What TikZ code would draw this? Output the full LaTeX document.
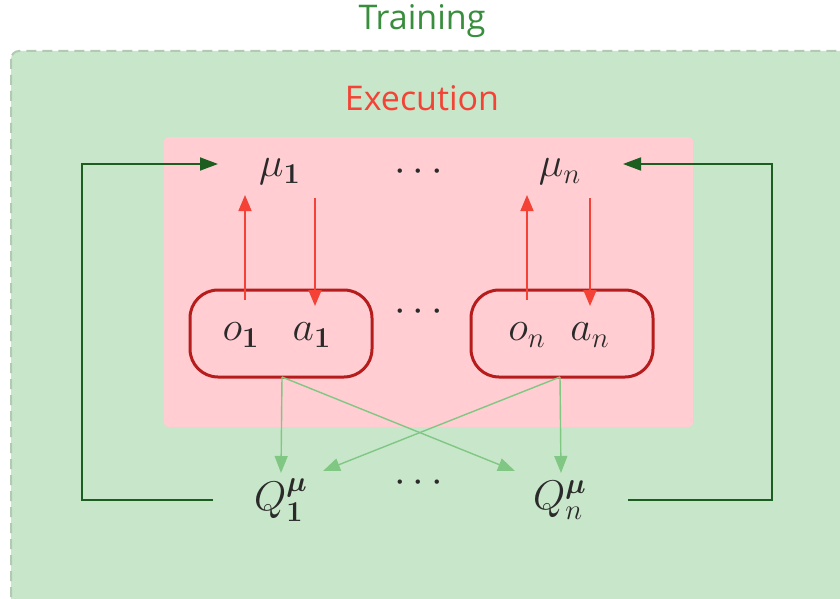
\documentclass[tikz,border=0pt]{standalone}
\usepackage[no-math]{fontspec}
\setmainfont{Open Sans}
\usepackage{amsmath}
\usetikzlibrary{arrows.meta}
\definecolor{trainGreen}{HTML}{388E3C}
\definecolor{execRed}{HTML}{F44336}
\definecolor{greenFill}{HTML}{C8E6C9}
\definecolor{pinkFill}{HTML}{FFCDD2}
\definecolor{pillStroke}{HTML}{B71C1C}
\definecolor{redArrow}{HTML}{F44336}
\definecolor{lightArrow}{HTML}{81C784}
\definecolor{darkGreen}{HTML}{1B5E20}
\definecolor{borderGray}{HTML}{B3C9B3}
\definecolor{mathGray}{HTML}{2A2A2A}
\tikzset{
  title/.style={font=\fontsize{17}{20}\selectfont, inner sep=0pt},
  lab/.style={font=\fontsize{20}{22}\selectfont, text=mathGray, inner sep=0pt},
  pillbox/.style={draw=pillStroke, line width=1.5pt, rounded corners=14pt,
    minimum width=91pt, minimum height=43.5pt, inner sep=0pt},
  redarr/.style={draw=redArrow, line width=0.8pt, -{Triangle[length=8pt,width=6.5pt]}},
  lgarr/.style={draw=lightArrow, line width=0.7pt, -{Triangle[length=8.5pt,width=6.5pt]}},
  dgarr/.style={draw=darkGreen, line width=0.9pt, -{Triangle[length=9pt,width=6.5pt]}},
}
\begin{document}
\begin{tikzpicture}[x=0.5pt,y=-0.5pt]
\useasboundingbox (0,0) rectangle (840,599);
\clip (0,0) rectangle (840,599);
% outer training box
\draw[fill=greenFill, draw=borderGray, line width=1pt, dash pattern=on 5pt off 3pt, rounded corners=4pt]
  (11,51) rectangle (870,630);
\node[title, text=trainGreen] (train) at (422,21) {Training};
% execution box
\fill[pinkFill, rounded corners=2pt] (164,137) rectangle (693,427);
\node[title, text=execRed] (exec) at (422,98) {Execution};
% actors
\node[lab] (mu1) at (280,172) {$\mu_{\mathbf{1}}$};
\node[lab] (mun) at (560,172) {$\mu_n$};
\node[lab] (dtop) at (422,172) {$\cdots$};
% pills
\node[pillbox] (p1) at (281,333.5) {};
\node[pillbox] (pn) at (562,333.5) {};
\node[lab] (o1) at (241,335) {$o_{\mathbf{1}}$};
\node[lab] (a1) at (312,335) {$a_{\mathbf{1}}$};
\node[lab] (on) at (527,335) {$o_n$};
\node[lab] (an) at (590,335) {$a_n$};
\node[lab] (dmid) at (422,312) {$\cdots$};
% critics
\node[lab] (q1) at (281,500) {$Q^{\boldsymbol{\mu}}_{\mathbf{1}}$};
\node[lab] (qn) at (560,500) {$Q^{\boldsymbol{\mu}}_{n}$};
\node[lab] (dbot) at (422,483) {$\cdots$};
% red arrows
\coordinate (u1s) at (245,300); \coordinate (u1e) at (245,195);
\coordinate (d1s) at (315,198); \coordinate (d1e) at (315,306);
\coordinate (uns) at (527,300); \coordinate (une) at (527,195);
\coordinate (dns) at (590,198); \coordinate (dne) at (590,306);
\draw[redarr] (u1s) -- (u1e);
\draw[redarr] (d1s) -- (d1e);
\draw[redarr] (uns) -- (une);
\draw[redarr] (dns) -- (dne);
% light green arrows
\coordinate (b1) at (282,377); \coordinate (bn) at (560,377);
\coordinate (q1t) at (281,473); \coordinate (q1d) at (323,471);
\coordinate (qnt) at (561,473); \coordinate (qnd) at (515,471);
\draw[lgarr] (b1) -- (q1t);
\draw[lgarr] (b1) -- (qnd);
\draw[lgarr] (bn) -- (qnt);
\draw[lgarr] (bn) -- (q1d);
% dark green loops
\coordinate (l1s) at (213,500); \coordinate (l1e) at (218,164);
\coordinate (lns) at (628,500); \coordinate (lne) at (623,164);
\draw[dgarr] (l1s) -- (82,500) -- (82,164) -- (l1e);
\draw[dgarr] (lns) -- (772,500) -- (772,164) -- (lne);
\end{tikzpicture}
\end{document}
